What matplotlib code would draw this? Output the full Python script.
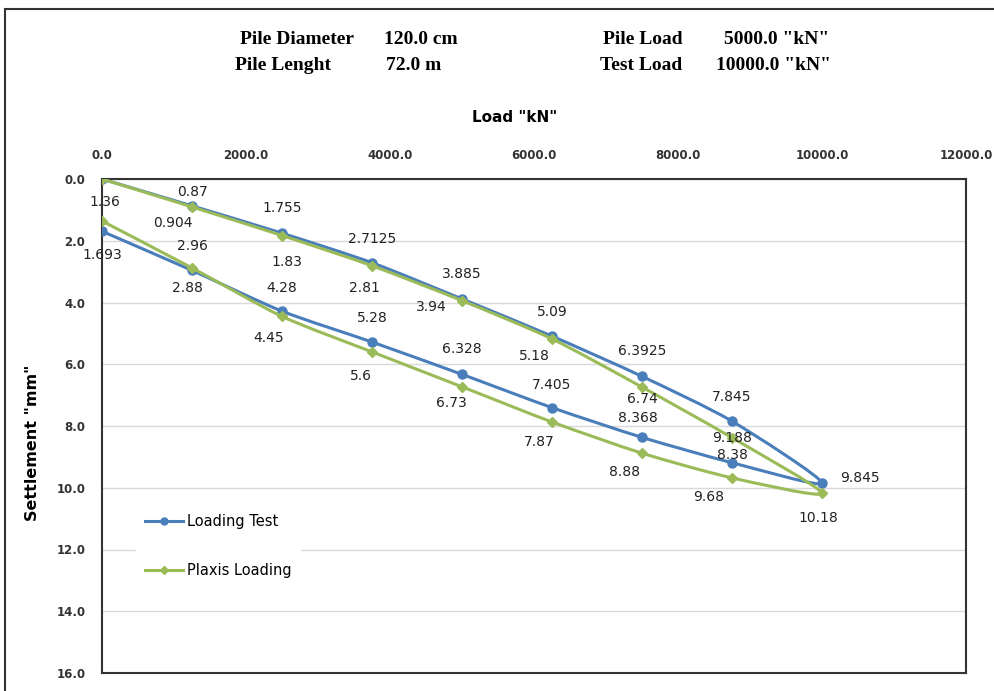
import matplotlib
matplotlib.use("Agg")
import matplotlib.pyplot as plt
from matplotlib.patches import Rectangle, PathPatch
from matplotlib.path import Path
from matplotlib.lines import Line2D

# loading then unloading steps
load = [0, 1250, 2500, 3750, 5000, 6250, 7500, 8750, 10000,
        8750, 7500, 6250, 5000, 3750, 2500, 1250, 0]
test_settle = [0, 0.87, 1.755, 2.7125, 3.885, 5.09, 6.3925, 7.845, 9.845,
               9.188, 8.368, 7.405, 6.328, 5.28, 4.28, 2.96, 1.693]
plaxis_settle = [0, 0.904, 1.83, 2.81, 3.94, 5.18, 6.74, 8.38, 10.18,
                 9.68, 8.88, 7.87, 6.73, 5.6, 4.45, 2.88, 1.36]
test_labels = ["", "0.87", "1.755", "2.7125", "3.885", "5.09", "6.3925", "7.845", "9.845",
               "9.188", "8.368", "7.405", "6.328", "5.28", "4.28", "2.96", "1.693"]
plaxis_labels = ["", "0.904", "1.83", "2.81", "3.94", "5.18", "6.74", "8.38", "10.18",
                 "9.68", "8.88", "7.87", "6.73", "5.6", "4.45", "2.88", "1.36"]

# label offsets in pixels (dx, dy up)
test_off = [(0, 0), (0, 14), (0, 25), (0, 24), (0, 25), (0, 24), (0, 25), (0, 24), (38, 5),
            (0, 25), (-4, 19), (0, 23), (0, 25), (0, 24), (0, 23), (0, 24), (0, -24)]
plaxis_off = [(0, 0), (-19, -16), (5, -26), (-8, -22), (-31, -6), (-18, -17), (0, -12), (0, -17), (-4, -25),
              (-23, -19), (-17, -19), (-13, -20), (-11, -16), (-11, -24), (-13, -22), (-5, -20), (3, 19)]

blue = "#4A7EBB"
green = "#9BBB59"


def smooth_path(xs, ys, k=1 / 8):
    # excel-like smoothed line: bezier segments through every point
    pts = list(zip(xs, ys))
    n = len(pts)
    verts = [pts[0]]
    codes = [Path.MOVETO]
    for i in range(n - 1):
        p0 = pts[i - 1] if i > 0 else pts[i]
        p1 = pts[i]
        p2 = pts[i + 1]
        p3 = pts[i + 2] if i + 2 < n else pts[i + 1]
        c1 = (p1[0] + (p2[0] - p0[0]) * k, p1[1] + (p2[1] - p0[1]) * k)
        c2 = (p2[0] - (p3[0] - p1[0]) * k, p2[1] - (p3[1] - p1[1]) * k)
        verts += [c1, c2, p2]
        codes += [Path.CURVE4] * 3
    return Path(verts, codes)


fig = plt.figure(figsize=(9.94, 6.91), dpi=100)
fig.patches.append(Rectangle((5 / 994, -0.05), 1.1, 1 - 9 / 691 + 0.05, transform=fig.transFigure,
                             fill=False, edgecolor="#333333", linewidth=1.5))
ax = fig.add_axes([102 / 994, 1 - 673 / 691, 864 / 994, 494 / 691])

for xs, ys, c, z in [(load, test_settle, blue, 3), (load, plaxis_settle, green, 4)]:
    ax.add_patch(PathPatch(smooth_path(xs, ys), facecolor="none", edgecolor=c, lw=2.2, zorder=z))
ax.plot(load, test_settle, ls="none", color=blue, marker="o", ms=6.5, zorder=3)
ax.plot(load, plaxis_settle, ls="none", color=green, marker="D", ms=5.5, zorder=4)

for x, y, s, o in zip(load, test_settle, test_labels, test_off):
    if s:
        ax.annotate(s, (x, y), xytext=o, textcoords="offset pixels", ha="center", va="center",
                    fontsize=10, color="#222222", family="DejaVu Sans", zorder=6)
for x, y, s, o in zip(load, plaxis_settle, plaxis_labels, plaxis_off):
    if s:
        ax.annotate(s, (x, y), xytext=o, textcoords="offset pixels", ha="center", va="center",
                    fontsize=10, color="#222222", family="DejaVu Sans", zorder=6)

ax.set_xlim(0, 12000)
ax.set_ylim(16, 0)
ax.set_xticks(range(0, 12001, 2000))
ax.set_xticklabels([f"{v:.1f}" for v in range(0, 12001, 2000)])
ax.set_yticks(range(0, 17, 2))
ax.set_yticklabels([f"{v:.1f}" for v in range(0, 17, 2)])
ax.xaxis.tick_top()
ax.tick_params(axis="both", length=0, labelsize=8.5, colors="#333333", pad=12)
for lab in ax.get_xticklabels() + ax.get_yticklabels():
    lab.set_fontweight("bold")
ax.grid(axis="y", color="#d9d9d9", lw=1)
ax.set_axisbelow(True)
for sp in ax.spines.values():
    sp.set_color("#333333")
    sp.set_linewidth(1.5)

ax.set_ylabel('Settlement "mm"', fontsize=11.5, fontweight="bold")
ax.yaxis.set_label_coords(-62 / 864, (673 - 443) / 494)
fig.text(515 / 994, 1 - 117 / 691, 'Load "kN"', ha="center", va="center", fontsize=11, fontweight="bold")

handles = [Line2D([], [], color=blue, lw=2.2, marker="o", ms=5),
           Line2D([], [], color=green, lw=2.2, marker="D", ms=4.5)]
leg = ax.legend(handles, ["Loading Test", "Plaxis Loading"], loc="lower left",
                bbox_to_anchor=(0.031, 0.16), frameon=True, fontsize=10.5,
                labelspacing=2.35, handlelength=2.6, handletextpad=0.3, borderpad=0.6)
leg.get_frame().set_edgecolor("white")
leg.get_frame().set_facecolor("white")
leg.get_frame().set_alpha(1)
leg.get_frame().set_boxstyle("square", pad=0)

hdr = dict(fontsize=14, fontweight="bold", family="Liberation Serif", va="center", ha="center")
fig.text(297 / 994, 1 - 40 / 691, "Pile Diameter", **hdr)
fig.text(421 / 994, 1 - 40 / 691, "120.0 cm", **hdr)
fig.text(283 / 994, 1 - 66 / 691, "Pile Lenght", **hdr)
fig.text(414 / 994, 1 - 66 / 691, "72.0 m", **hdr)
fig.text(643 / 994, 1 - 40 / 691, "Pile Load", **hdr)
fig.text(777 / 994, 1 - 40 / 691, '5000.0 "kN"', **hdr)
fig.text(641 / 994, 1 - 66 / 691, "Test Load", **hdr)
fig.text(773 / 994, 1 - 66 / 691, '10000.0 "kN"', **hdr)

fig.savefig("out.png", dpi=100)
